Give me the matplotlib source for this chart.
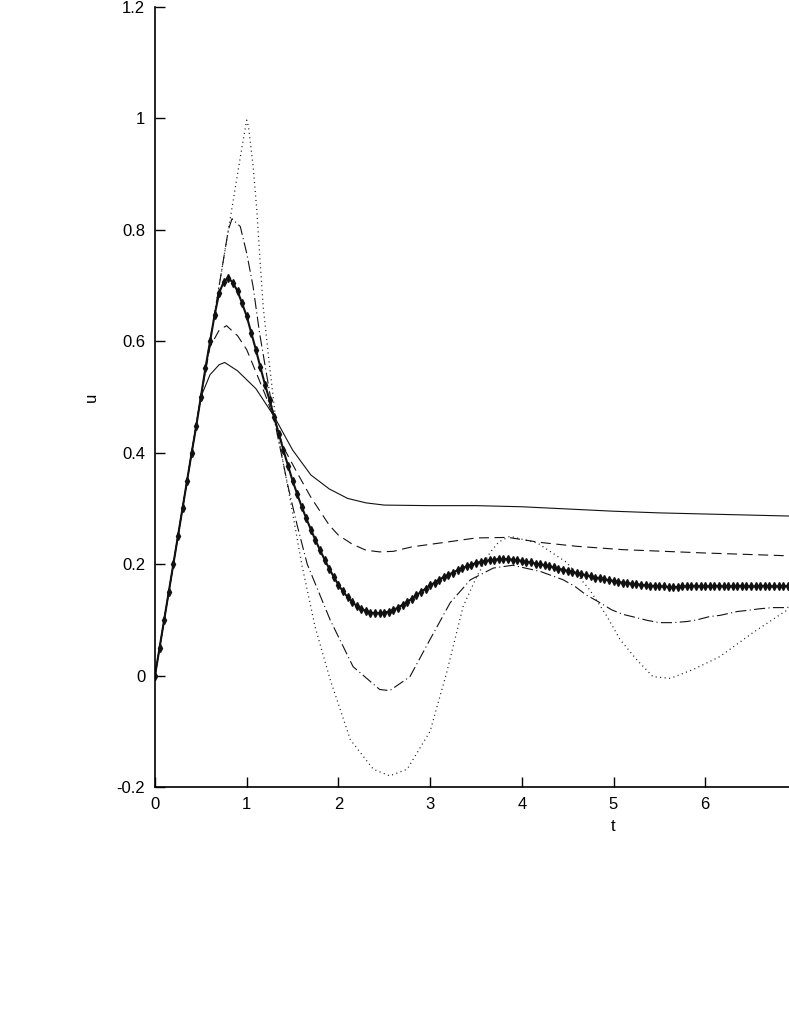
import numpy as np
import matplotlib
matplotlib.use('Agg')
import matplotlib.pyplot as plt

# curve values (t, u)
t_solid = [0, 0.5, 0.6, 0.7, 0.76, 0.9, 1.1, 1.3, 1.5, 1.7, 1.9, 2.1, 2.3, 2.5,
           3.0, 3.5, 4.0, 4.5, 5.0, 5.5, 6.0, 6.5, 7.0]
u_solid = [0, 0.5, 0.54, 0.558, 0.562, 0.547, 0.515, 0.465, 0.405, 0.36, 0.335,
           0.318, 0.31, 0.306, 0.305, 0.305, 0.303, 0.299, 0.295, 0.292, 0.29,
           0.288, 0.286]

t_dashed = [0, 0.5, 0.6, 0.7, 0.78, 0.9, 1.0, 1.1, 1.2, 1.3, 1.4, 1.55, 1.7, 1.8,
            1.9, 2.0, 2.15, 2.3, 2.45, 2.6, 2.8, 3.2, 3.5, 3.85, 4.2, 4.6, 5.1,
            6.0, 6.9, 7.0]
u_dashed = [0, 0.5, 0.59, 0.62, 0.628, 0.61, 0.585, 0.545, 0.505, 0.46, 0.41,
            0.364, 0.32, 0.295, 0.27, 0.252, 0.236, 0.225, 0.222, 0.223, 0.231,
            0.24, 0.247, 0.248, 0.239, 0.232, 0.226, 0.22, 0.215, 0.214]

t_dashdot = [0, 0.75, 0.8, 0.84, 0.93, 1.0, 1.07, 1.14, 1.3, 1.45, 1.55, 1.66,
             1.91, 2.16, 2.45, 2.56, 2.78, 3.0, 3.22, 3.44, 3.69, 3.9, 4.2, 4.45,
             4.58, 4.7, 4.83, 4.98, 5.1, 5.25, 5.37, 5.5, 5.65, 5.8, 5.91, 6.05,
             6.16, 6.35, 6.46, 6.6, 6.74, 6.85, 7.0]
u_dashdot = [0, 0.75, 0.80, 0.82, 0.806, 0.758, 0.698, 0.615, 0.46, 0.34, 0.27,
             0.2, 0.1, 0.016, -0.025, -0.027, -0.002, 0.065, 0.131, 0.172, 0.193,
             0.198, 0.187, 0.172, 0.16, 0.145, 0.133, 0.118, 0.11, 0.104, 0.099,
             0.095, 0.095, 0.097, 0.1, 0.106, 0.108, 0.115, 0.117, 0.12, 0.122,
             0.122, 0.123]

t_dotted = [0, 0.9, 0.95, 1.0, 1.02, 1.07, 1.11, 1.145, 1.18, 1.24, 1.33, 1.47,
            1.6, 1.745, 1.91, 2.13, 2.38, 2.56, 2.75, 3.0, 3.18, 3.36, 3.51, 3.65,
            3.75, 3.87, 4.17, 4.49, 4.74, 4.93, 5.07, 5.25, 5.43, 5.62, 5.87,
            6.16, 6.52, 6.85, 7.0]
u_dotted = [0, 0.9, 0.95, 0.997, 0.985, 0.914, 0.836, 0.746, 0.662, 0.57, 0.44,
            0.32, 0.2, 0.088, -0.007, -0.115, -0.168, -0.18, -0.168, -0.1, 0.005,
            0.124, 0.178, 0.22, 0.24, 0.25, 0.238, 0.203, 0.154, 0.106, 0.065,
            0.029, -0.002, -0.005, 0.011, 0.034, 0.077, 0.113, 0.128]

# thick curve with markers, sampled every 0.05 in t
t_mark = np.arange(0, 7.001, 0.05)
u_mark = [0.000, 0.050, 0.100, 0.150, 0.200, 0.250, 0.300, 0.350, 0.400, 0.448,
          0.500, 0.552, 0.600, 0.647, 0.687, 0.707, 0.714, 0.705, 0.690, 0.668,
          0.645, 0.615, 0.585, 0.553, 0.522, 0.494, 0.464, 0.434, 0.405, 0.377,
          0.350, 0.326, 0.303, 0.282, 0.262, 0.243, 0.225, 0.208, 0.192, 0.177,
          0.163, 0.151, 0.141, 0.132, 0.125, 0.120, 0.116, 0.113, 0.112, 0.112,
          0.113, 0.115, 0.118, 0.122, 0.127, 0.132, 0.138, 0.144, 0.150, 0.156,
          0.162, 0.167, 0.172, 0.177, 0.181, 0.185, 0.189, 0.193, 0.196, 0.199,
          0.202, 0.204, 0.206, 0.207, 0.208, 0.209, 0.209, 0.209, 0.208, 0.207,
          0.206, 0.204, 0.203, 0.201, 0.200, 0.198, 0.196, 0.194, 0.192, 0.190,
          0.188, 0.186, 0.184, 0.182, 0.180, 0.178, 0.176, 0.175, 0.173, 0.171,
          0.170, 0.168, 0.167, 0.166, 0.165, 0.164, 0.163, 0.162, 0.161, 0.161,
          0.160, 0.160, 0.159, 0.159, 0.159, 0.160, 0.160, 0.161, 0.161, 0.160,
          0.160, 0.160, 0.161, 0.161, 0.160, 0.160, 0.160, 0.161, 0.161, 0.160,
          0.160, 0.160, 0.161, 0.161, 0.160, 0.160, 0.160, 0.160, 0.161, 0.160,
          0.160]

x_ticks = [0, 1, 2, 3, 4, 5, 6]
y_ticks = [-0.2, 0, 0.2, 0.4, 0.6, 0.8, 1, 1.2]
y_tick_labels = ['-0.2', '0', '0.2', '0.4', '0.6', '0.8', '1', '1.2']

plt.rcParams['font.family'] = ['Liberation Sans', 'DejaVu Sans']

W, H = 789, 1021
fig = plt.figure(figsize=(W / 100, H / 100), dpi=100)
# axes left edge at x=155px, bottom at y=787px, top at y=7px;
# the plot runs to t=10 and the figure cuts it off near t=6.9
ax = fig.add_axes([155 / W, (H - 787) / H, 917 / W, 780 / H])

ax.plot(t_solid, u_solid, color='#111111', lw=0.8)
ax.plot(t_dashed, u_dashed, color='#111111', lw=0.8, dashes=(9, 5))
ax.plot(t_dashdot, u_dashdot, color='#111111', lw=0.8, dashes=(10, 3, 1, 3))
ax.plot(t_dotted, u_dotted, color='#111111', lw=0.9, dashes=(0.8, 2.8))
ax.plot(t_mark, u_mark, color='#111111', lw=1.5, marker='d', markersize=4.2,
        markerfacecolor='#111111', markeredgecolor='#111111')

ax.set_xlim(0, 10)
ax.set_ylim(-0.2, 1.2)
ax.set_xticks(x_ticks)
ax.set_yticks(y_ticks)
ax.set_yticklabels(y_tick_labels)
ax.tick_params(direction='in', length=7, width=1, labelsize=12, pad=7)
ax.spines['top'].set_visible(False)
ax.spines['right'].set_visible(False)
ax.spines['left'].set_linewidth(1.2)
ax.spines['bottom'].set_linewidth(1.2)

ax.set_xlabel('t', fontsize=12, labelpad=5)
ax.set_ylabel('u', fontsize=12, labelpad=13)

fig.savefig('out.png', dpi=100)
